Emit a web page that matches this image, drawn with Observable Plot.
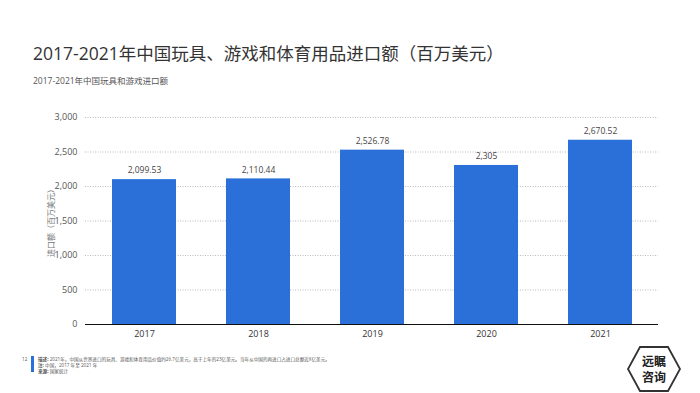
<!DOCTYPE html>
<html><head><meta charset="utf-8">
<script src="https://cdn.jsdelivr.net/npm/d3@7"></script>
<script src="https://cdn.jsdelivr.net/npm/@observablehq/plot@0.6"></script>
<style>
body{margin:0;width:700px;height:393px;background:#fff;position:relative;overflow:hidden;font-family:"Open Sans","Noto Sans CJK SC",sans-serif;}
#title{position:absolute;left:33px;top:40px;font-size:17.5px;color:#333;white-space:nowrap;font-family:"Open Sans","Noto Sans CJK SC",sans-serif;}
#sub{position:absolute;left:33px;top:74px;font-size:8.5px;color:#555;white-space:nowrap;}
#chart{position:absolute;left:0;top:100px;}
#foot{position:absolute;left:38px;top:356px;font-size:4.6px;line-height:6px;color:#555;white-space:nowrap;}
#bar{position:absolute;left:31px;top:356px;width:2.5px;height:16px;background:#2a6fdb;}
#pg{position:absolute;left:22px;top:356px;font-size:4.6px;color:#555;}
#logo{position:absolute;left:626px;top:345px;}
</style></head>
<body>
<div id="title">2017-2021年中国玩具、游戏和体育用品进口额（百万美元）</div>
<div id="sub">2017-2021年中国玩具和游戏进口额</div>
<div id="chart"></div>
<div id="pg">12</div><div id="bar"></div>
<div id="foot"><b>描述:</b> 2021年，中国从世界进口的玩具、游戏和体育用品价值约26.7亿美元，高于上年的23亿美元。当年从中国的再进口占进口总额近X亿美元。<br><b>注:</b> 中国，2017 年至 2021 年<br><b>来源:</b> 国家统计</div>
<svg id="logo" width="56" height="48" viewBox="0 0 56 48">
<polygon points="14,2 42,2 54,24 42,46 14,46 2,24" fill="#fff" stroke="#333" stroke-width="1.8"/>
<text x="28" y="21" text-anchor="middle" font-size="12" font-weight="bold" fill="#222" font-family="Noto Sans CJK SC">远瞩</text>
<text x="28" y="37" text-anchor="middle" font-size="12" font-weight="bold" fill="#222" font-family="Noto Sans CJK SC">咨询</text>
</svg>
<script>
const years = ["2017","2018","2019","2020","2021"];
const values = [2099.53, 2110.44, 2526.78, 2305, 2670.52];
const labels = ["2,099.53","2,110.44","2,526.78","2,305","2,670.52"];
const yTicks = [0,500,1000,1500,2000,2500,3000];
const yTitle = "进口额（百万美元）";

const data = years.map((y,i)=>({year:y, value:values[i], label:labels[i]}));
const fmt = d3.format(",");
const chart = Plot.plot({
  width:700, height:250,
  marginTop:17, marginBottom:26, marginLeft:85, marginRight:42,
  style:{fontFamily:"'Open Sans','Noto Sans CJK SC',sans-serif", fontSize:"9px", color:"#444", background:"transparent"},
  x:{domain:years, paddingInner:0.44, paddingOuter:0.22, label:null, tickSize:0, tickPadding:6},
  y:{domain:[0,3000], ticks:yTicks, tickFormat:fmt, tickSize:0, tickPadding:8, label:null},
  marks:[
    Plot.gridY(yTicks.filter(t=>t>0), {stroke:"#aaa", strokeOpacity:1, strokeDasharray:"1,1.5", strokeWidth:0.8}),
    Plot.barY(data, {x:"year", y:"value", fill:"#2a70d8"}),
    Plot.ruleY([0], {stroke:"#111", strokeWidth:1.2}),
    Plot.text(data, {x:"year", y:"value", text:"label", dy:-9, fill:"#444", fontSize:8.5}),
    Plot.axisY({ticks:yTicks, tickFormat:fmt, tickSize:0, tickPadding:8, label:null, fill:"#555"}),
    Plot.axisX({tickSize:0, tickPadding:6, label:null, fill:"#333"}),
    Plot.text([yTitle], {frameAnchor:"left", textAnchor:"middle", dx:-34, rotate:-90, fill:"#777", fontSize:8, fontFamily:"'Noto Sans CJK SC',serif"})
  ]
});
document.getElementById("chart").append(chart);
</script>
</body></html>
